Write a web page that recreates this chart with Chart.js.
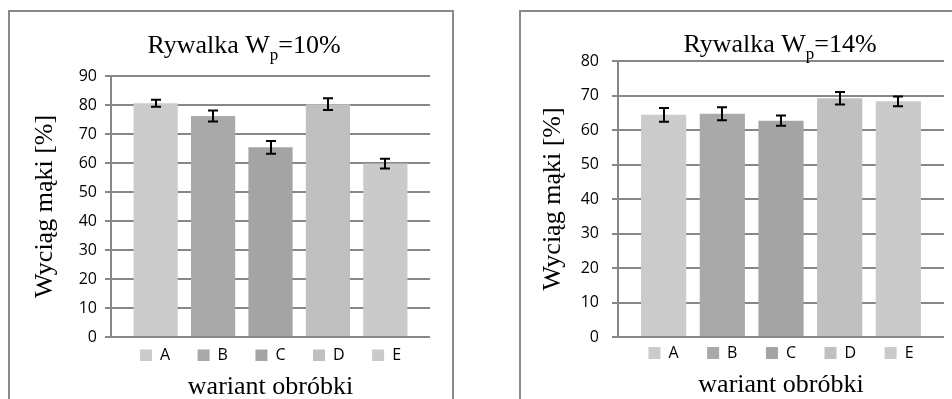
<!DOCTYPE html>
<html><head><meta charset="utf-8">
<script src="https://cdn.jsdelivr.net/npm/chart.js@4.4.1/dist/chart.umd.min.js"></script>
<style>
html,body{margin:0;padding:0;width:952px;height:399px;overflow:hidden;background:#fff;}
.frame{position:absolute;border:2px solid #8a8a8a;box-sizing:border-box;}
.wrap{position:absolute;top:0;}
canvas{display:block;}
</style></head><body>
<div class="frame" style="left:8px;top:10px;width:446px;height:430px"></div>
<div class="frame" style="left:519px;top:10px;width:460px;height:430px"></div>
<div class="wrap" style="left:0px;width:465px;height:420px"><canvas id="c1" width="465" height="420"></canvas></div>
<div class="wrap" style="left:470px;width:500px;height:420px"><canvas id="c2" width="500" height="420"></canvas></div>
<script>
// ---- data ----
const categories = ['A', 'B', 'C', 'D', 'E'];
const wp10Values = [80.6, 76.2, 65.4, 80.3, 59.8];
const wp10Errors = [1.2, 1.9, 2.2, 2.0, 1.7];
const wp14Values = [64.4, 64.7, 62.7, 69.2, 68.3];
const wp14Errors = [2.0, 1.9, 1.5, 1.8, 1.4];
const yTicksWp10 = [0, 10, 20, 30, 40, 50, 60, 70, 80, 90];
const yTicksWp14 = [0, 10, 20, 30, 40, 50, 60, 70, 80];
const barColors = ['#cbcbcb', '#a9a9a9', '#a4a4a4', '#c0c0c0', '#cacaca'];
const yAxisTitle = 'Wyciąg mąki [%]';
const xAxisTitle = 'wariant obróbki';

const gridColor = '#878787';
const sansFont = '"Open Sans", sans-serif';
const serifFont = '"Liberation Serif", serif';

const errorBarPlugin = {
  id: 'errorBars',
  afterDatasetsDraw(chart) {
    const ctx = chart.ctx, y = chart.scales.y;
    ctx.save();
    ctx.strokeStyle = '#000';
    ctx.lineWidth = 2;
    chart.data.datasets.forEach((ds, i) => {
      const meta = chart.getDatasetMeta(i);
      meta.data.forEach((bar, j) => {
        const v = ds.data[j], e = ds.errors[j];
        const x = Math.round(bar.x);
        const yT = y.getPixelForValue(v + e), yB = y.getPixelForValue(v - e);
        ctx.beginPath();
        ctx.moveTo(x, yT); ctx.lineTo(x, yB);
        ctx.moveTo(x - 5, yT); ctx.lineTo(x + 5, yT);
        ctx.moveTo(x - 5, yB); ctx.lineTo(x + 5, yB);
        ctx.stroke();
      });
    });
    ctx.restore();
  }
};

const subTitlePlugin = {
  id: 'subTitle',
  afterDraw(chart, args, o) {
    const ctx = chart.ctx;
    const main = '26px ' + serifFont, sub = '17px ' + serifFont;
    ctx.save();
    ctx.fillStyle = '#000';
    ctx.textBaseline = 'alphabetic';
    ctx.textAlign = 'left';
    ctx.font = main;
    const w1 = ctx.measureText(o.before).width, w3 = ctx.measureText(o.after).width;
    ctx.font = sub;
    const w2 = ctx.measureText(o.sub).width;
    let x = o.centerX - (w1 + w2 + w3) / 2;
    ctx.font = main; ctx.fillText(o.before, x, o.baseline); x += w1;
    ctx.font = sub; ctx.fillText(o.sub, x, o.baseline + 7); x += w2;
    ctx.font = main; ctx.fillText(o.after, x, o.baseline);
    ctx.restore();
  }
};

const legendShiftPlugin = {
  id: 'legendShift',
  afterLayout(chart, args, o) {
    if (chart.legend) chart.legend.top = chart.chartArea.bottom + o.offset;
  }
};

function makeChart(id, values, errors, yTicks, cfg) {
  const datasets = categories.map((c, i) => ({
    label: c,
    data: [values[i]],
    errors: [errors[i]],
    backgroundColor: barColors[i],
    borderWidth: 0,
    categoryPercentage: 0.9,
    barPercentage: 0.77
  }));
  return new Chart(document.getElementById(id), {
    type: 'bar',
    data: { labels: [''], datasets },
    options: {
      responsive: false,
      animation: false,
      layout: { padding: cfg.padding },
      plugins: {
        tooltip: { enabled: false },
        title: { display: false },
        legend: {
          position: 'bottom',
          fullSize: false,
          weight: -10,
          maxHeight: 24,
          labels: {
            color: '#000',
            font: { family: sansFont, size: 16 },
            boxWidth: 12, boxHeight: 12,
            padding: cfg.legendPadding
          }
        },
        legendShift: { offset: cfg.legendOffset },
        subTitle: cfg.title
      },
      scales: {
        x: {
          ticks: { display: false },
          grid: { display: false },
          border: { display: false },
          title: {
            display: true, text: xAxisTitle, color: '#000',
            font: { family: serifFont, size: 26 },
            padding: { top: 0, bottom: 0 }
          },
          afterFit(s) { s.height = cfg.xHeight; }
        },
        y: {
          min: yTicks[0], max: yTicks[yTicks.length - 1],
          afterBuildTicks(s) { s.ticks = yTicks.map(v => ({ value: v })); },
          ticks: { color: '#000', font: { family: sansFont, size: 16 }, padding: cfg.tickPad },
          grid: { color: gridColor, lineWidth: 2, tickLength: 6 },
          border: { display: true, color: gridColor, width: 2 },
          title: {
            display: true, text: yAxisTitle, color: '#000',
            font: { family: serifFont, size: 26 },
            padding: { top: cfg.yTitlePad, bottom: 0 }
          },
          afterFit(s) { s.width = cfg.yWidth; }
        }
      }
    },
    plugins: [errorBarPlugin, subTitlePlugin, legendShiftPlugin]
  });
}

makeChart('c1', wp10Values, wp10Errors, yTicksWp10, {
  padding: { top: 76, right: 35, bottom: 17, left: 0 },
  yWidth: 111, xHeight: 42, tickPad: 8, yTitlePad: 30,
  legendPadding: 27.5, legendOffset: -17,
  title: { before: 'Rywalka W', sub: 'p', after: '=10%', centerX: 244, baseline: 53 }
});
makeChart('c2', wp14Values, wp14Errors, yTicksWp14, {
  padding: { top: 61, right: 26, bottom: 19, left: 0 },
  yWidth: 148, xHeight: 40, tickPad: 13, yTitlePad: 68,
  legendPadding: 28.5, legendOffset: -20.5,
  title: { before: 'Rywalka W', sub: 'p', after: '=14%', centerX: 310, baseline: 52 }
});
</script>
</body></html>
